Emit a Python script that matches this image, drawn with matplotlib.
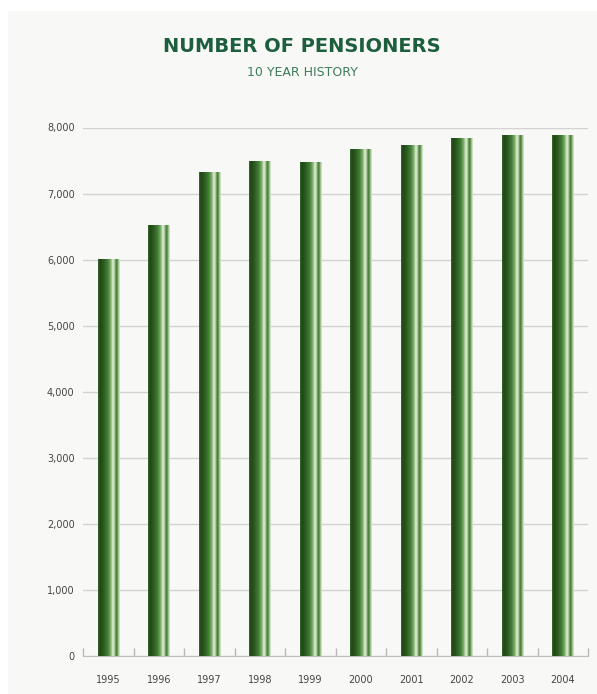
import matplotlib
matplotlib.use("Agg")
import matplotlib.pyplot as plt
import numpy as np
from matplotlib.colors import LinearSegmentedColormap
from matplotlib.patches import Rectangle

years = ["1995", "1996", "1997", "1998", "1999", "2000", "2001", "2002", "2003", "2004"]
pensioners = [6010, 6520, 7330, 7490, 7480, 7680, 7730, 7840, 7880, 7885]
yticks = [0, 1000, 2000, 3000, 4000, 5000, 6000, 7000, 8000]
ytick_labels = ["0", "1,000", "2,000", "3,000", "4,000", "5,000", "6,000", "7,000", "8,000"]

W, H = 597, 694
fig = plt.figure(figsize=(W / 100, H / 100), dpi=100)
fig.patch.set_facecolor("white")
# light panel
fig.patches.append(Rectangle((8 / W, 0), 1 - 8 / W, 1 - 11 / H, transform=fig.transFigure,
                             facecolor="#f8f9f7", edgecolor="none", zorder=-10))

ax = fig.add_axes([83 / W, 1 - 656 / H, (588 - 83) / W, (656 - 127.5) / H])
ax.set_facecolor("none")
ax.set_zorder(5)

x = np.arange(len(years))
bars = ax.bar(x, pensioners, width=0.42, color="none", edgecolor="none", zorder=3)

cmap = LinearSegmentedColormap.from_list("cyl", [
    (0.0, "#3d6a2e"), (0.08, "#1f4614"), (0.25, "#2c5a1f"), (0.45, "#44803a"),
    (0.58, "#7fb06a"), (0.68, "#e4efdc"), (0.76, "#a8c996"), (0.83, "#3f7530"),
    (0.9, "#6e9e5a"), (0.96, "#c9dcbd"), (1.0, "#d8e2d2")])
grad = np.linspace(0, 1, 256).reshape(1, -1)
for b in bars:
    x0, w, h = b.get_x(), b.get_width(), b.get_height()
    im = ax.imshow(grad, cmap=cmap, aspect="auto", extent=(x0, x0 + w, 0, h),
                   zorder=3, interpolation="bilinear")
    im.set_clip_path(b)

ax.set_xlim(-0.5, len(years) - 0.5)
ax.set_ylim(0, 8000)
ax.set_yticks(yticks)
ax.set_yticklabels(ytick_labels)
ax.grid(axis="y", color="#d2d2d2", linewidth=1, zorder=0)
ax.set_axisbelow(True)

ax.set_xticks(x)
ax.set_xticklabels(years)
ax.tick_params(axis="x", length=0, pad=14, labelsize=7, labelcolor="#444444")
ax.tick_params(axis="y", length=0, pad=6, labelsize=7, labelcolor="#444444")
for lab in ax.get_yticklabels() + ax.get_xticklabels():
    lab.set_fontfamily("DejaVu Sans")

# boundary ticks pointing up
ax.set_xticks(np.arange(-0.5, len(years) - 0.4, 1.0), minor=True)
ax.tick_params(axis="x", which="minor", direction="in", length=6, color="#b8b8b8", width=1)

for s in ["top", "right", "left"]:
    ax.spines[s].set_visible(False)
ax.spines["bottom"].set_color("#bdbdbd")

fig.text(302 / W, 1 - 47 / H, "NUMBER OF PENSIONERS", ha="center", va="center",
         fontsize=14, fontweight="bold", color="#1d5e3c", family="DejaVu Sans")
fig.text(302 / W, 1 - 73 / H, "10 YEAR HISTORY", ha="center", va="center",
         fontsize=9, color="#3d7c5a", family="DejaVu Sans")

fig.savefig("out.png", dpi=100, facecolor="white")
